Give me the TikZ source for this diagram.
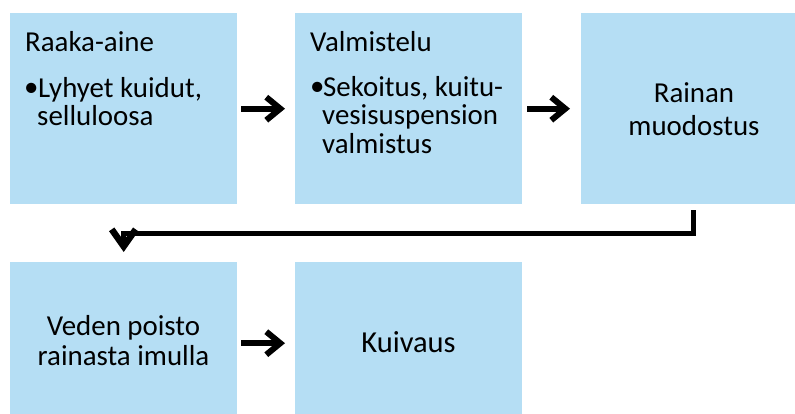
\documentclass[tikz,border=0pt]{standalone}
\usepackage{fontspec}
\setmainfont{Carlito}
\usetikzlibrary{arrows.meta,calc}
\definecolor{boxblue}{RGB}{181,222,244}
\begin{document}
\begin{tikzpicture}[x=1pt,y=-1pt,
  box/.style={rectangle, fill=boxblue, draw=none, minimum width=227pt, inner sep=0pt, anchor=north west},
  toprow/.style={box, minimum height=191pt},
  botrow/.style={box, minimum height=162pt},
  txt/.style={font=\fontsize{28.9}{33}\selectfont, inner sep=0pt, text=black},
  bigtxt/.style={font=\fontsize{30.5}{33}\selectfont, inner sep=0pt, text=black},
  flow/.style={line width=6pt, -{Straight Barb[length=14pt, width=23pt, line width=6pt]}},
  elbow/.style={line width=5.5pt, line join=miter, -{Straight Barb[length=17pt, width=24pt, line width=6.5pt]}}
]
\useasboundingbox (0,0) rectangle (795,414);
\clip (0,0) rectangle (795,414);

% boxes
\node[toprow] (b1) at (10,13) {};
\node[toprow] (b2) at (295,13) {};
\node[toprow] (b3) at (581,13) {};
\node[botrow] (b4) at (10,262) {};
\node[botrow] (b5) at (295,262) {};

% box 1 text
\node[txt, anchor=base west] (h1) at (25,52) {Raaka-aine};
\node[txt, anchor=base west] (p1) at (24,97) {\textbullet};
\node[txt, anchor=base west] (l1a) at (38,98) {Lyhyet kuidut,};
\node[txt, anchor=base west] (l1b) at (37,126) {selluloosa};

% box 2 text
\node[txt, anchor=base west] (h2) at (310,52) {Valmistelu};
\node[txt, anchor=base west] (p2) at (310,96) {\textbullet};
\node[txt, anchor=base west] (l2a) at (323,97) {Sekoitus, kuitu-};
\node[txt, anchor=base west] (l2b) at (322,125) {vesisuspension};
\node[txt, anchor=base west] (l2c) at (322,154) {valmistus};

% box 3 text
\node[txt, anchor=base] (l3a) at (694,103) {Rainan};
\node[txt, anchor=base] (l3b) at (694,136) {muodostus};

% box 4 text
\node[txt, anchor=base] (l4a) at (123.5,335) {Veden poisto};
\node[txt, anchor=base] (l4b) at (123.5,365) {rainasta imulla};

% box 5 text
\node[bigtxt, anchor=base] (l5a) at (408.5,352) {Kuivaus};

% connectors
\draw[flow] ($(b1.east)+(4,0)$) -- ($(b2.west)+(-10,0)$);
\draw[flow] ($(b2.east)+(5,0)$) -- ($(b3.west)+(-11,0)$);
\draw[flow] ($(b4.east)+(4,0)$) -- ($(b5.west)+(-10,0)$);
\draw[elbow] ($(b3.south)+(-1,6)$) -- ++(0,23) -| ($(b4.north)+(0,-10)$);
\end{tikzpicture}
\end{document}
